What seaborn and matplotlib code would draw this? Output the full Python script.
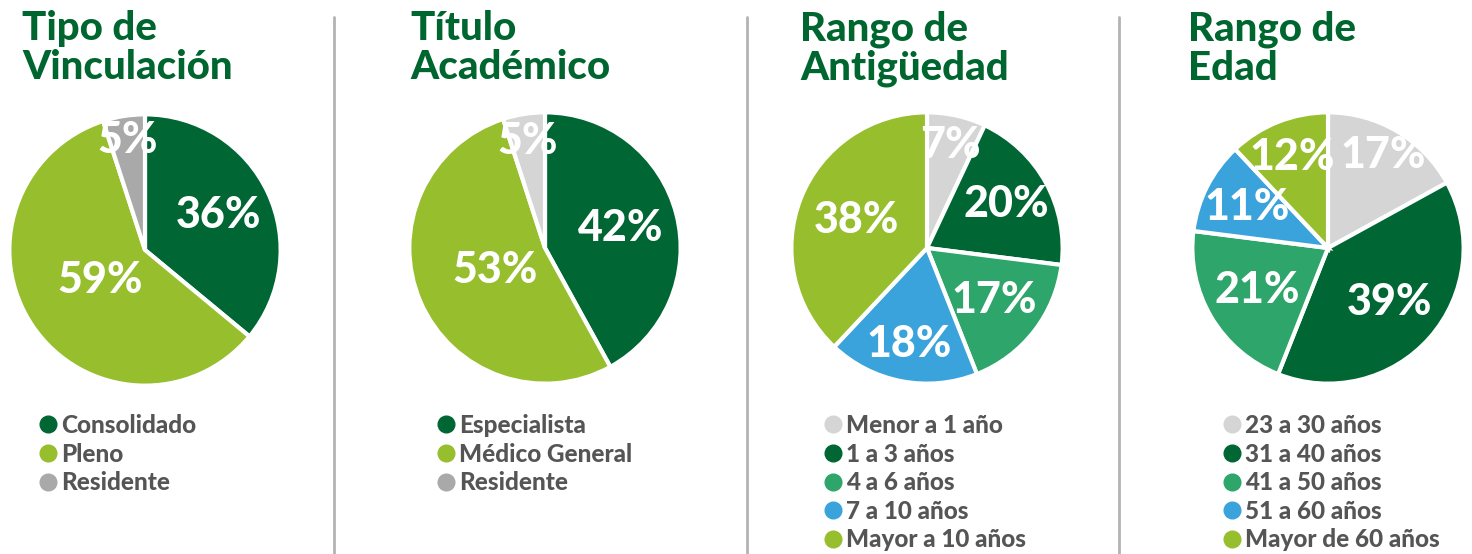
import numpy as np
import matplotlib.pyplot as plt
import seaborn as sns
from matplotlib.lines import Line2D

sns.set_theme(style="white")
plt.rcParams['font.family'] = ['Lato', 'DejaVu Sans']

## data
titles = ['Tipo de\nVinculación', 'Título\nAcadémico', 'Rango de\nAntigüedad', 'Rango de\nEdad']

vinc_labels = ['Consolidado', 'Pleno', 'Residente']
vinc_values = [36, 59, 5]

titulo_labels = ['Especialista', 'Médico General', 'Residente']
titulo_values = [42, 53, 5]

antig_labels = ['Menor a 1 año', '1 a 3 años', '4 a 6 años', '7 a 10 años', 'Mayor a 10 años']
antig_values = [7, 20, 17, 18, 38]

edad_labels = ['23 a 30 años', '31 a 40 años', '41 a 50 años', '51 a 60 años', 'Mayor de 60 años']
edad_values = [17, 39, 21, 11, 12]

## colours
DARK = '#006633'
LIME = '#97be2d'
MID = '#2ea56a'
BLUE = '#3ba3dc'
LGRAY = '#d5d5d5'
GRAY = '#a9a9a9'

panels = [
    dict(labels=vinc_labels, values=vinc_values, colors=[DARK, LIME, GRAY],
         legcolors=[DARK, LIME, GRAY], dist=[0.6, 0.4, 0.82]),
    dict(labels=titulo_labels, values=titulo_values, colors=[DARK, LIME, LGRAY],
         legcolors=[DARK, LIME, GRAY], dist=[0.58, 0.4, 0.8]),
    dict(labels=antig_labels, values=antig_values, colors=[LGRAY, DARK, MID, BLUE, LIME],
         legcolors=[LGRAY, DARK, MID, BLUE, LIME], dist=[0.78, 0.67, 0.63, 0.72, 0.56]),
    dict(labels=edad_labels, values=edad_values, colors=[LGRAY, DARK, MID, BLUE, LIME],
         legcolors=[LGRAY, DARK, MID, BLUE, LIME], dist=[0.8, 0.6, 0.61, 0.67, 0.72]),
]

W, H = 1472, 554
fig = plt.figure(figsize=(W / 100, H / 100), dpi=100)

centers = [(145, 250), (545, 248), (927, 248), (1328, 248)]
R = 137
title_x = [22, 410, 800, 1188]
legend_x = [38, 436, 823, 1222]
sep_x = [334, 747, 1119]

for p, (cx, cy), tx, lx, title in zip(panels, centers, title_x, legend_x, titles):
    ax = fig.add_axes([(cx - R) / W, (H - cy - R) / H, 2 * R / W, 2 * R / H])
    wedges, _ = ax.pie(p['values'], colors=p['colors'], startangle=90, counterclock=False,
                       wedgeprops=dict(edgecolor='white', linewidth=3))
    tot = sum(p['values'])
    cum = 0
    for v, d in zip(p['values'], p['dist']):
        mid = np.deg2rad(90 - (cum + v / 2) / tot * 360)
        cum += v
        ax.text(d * np.cos(mid), d * np.sin(mid), f'{v}%', ha='center', va='center',
                color='white', fontsize=31, fontweight=900)
    ax.set_xlim(-1.01, 1.01)
    ax.set_ylim(-1.01, 1.01)
    ax.axis('off')

    fig.text(tx / W, 1 - 10 / H, title, ha='left', va='top', color='#00662f',
             fontsize=29, fontweight=900, linespacing=1.08)

    handles = [Line2D([0], [0], marker='o', linestyle='', markersize=12,
                      markerfacecolor=c, markeredgecolor=c) for c in p['legcolors']]
    leg = fig.legend(handles, p['labels'], loc='upper left',
                     bbox_to_anchor=(lx / W, 1 - 414 / H), frameon=False,
                     handlelength=0.8, handletextpad=0.15, labelspacing=0.23,
                     borderaxespad=0, borderpad=0, prop=dict(size=17.5, weight=900))
    for t in leg.get_texts():
        t.set_color('#555555')

for x in sep_x:
    fig.add_artist(Line2D([x / W, x / W], [0, 1 - 17 / H], color='#b3b3b3', linewidth=2))

fig.savefig('out.png', dpi=100)
